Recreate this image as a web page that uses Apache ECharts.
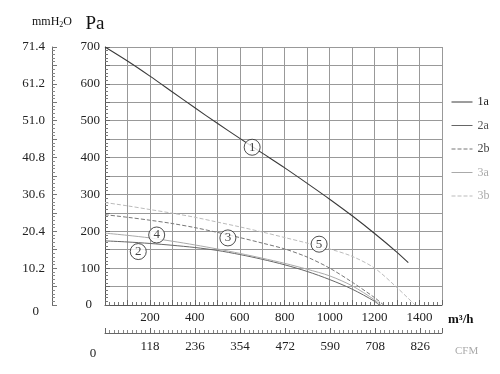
<!DOCTYPE html>
<html>
<head>
<meta charset="utf-8">
<style>html,body{margin:0;padding:0;background:#fff;}#c{width:500px;height:374px;}</style>
<script src="https://cdn.jsdelivr.net/npm/echarts@6/dist/echarts.min.js"></script>
</head>
<body>
<div id="c"></div>
<script>
// Data (flow in m3/h, pressure in Pa)
const q1a = [0,100,200,300,400,500,600,700,800,900,1000,1100,1200,1300,1350];
const p1a = [700,662,621,578,535,493,452,412,372,330,287,242,194,143,115];
const q2a = [0,100,200,300,400,500,600,700,800,900,1000,1100,1200,1220];
const p2a = [174,171,167,162,156,148,137,124,109,91,69,43,10,0];
const q2b = [0,100,200,300,400,500,600,700,800,900,1000,1100,1200,1240];
const p2b = [245,238,230,221,210,197,183,168,152,130,100,62,20,0];
const q3a = [0,100,200,300,400,500,600,700,800,900,1000,1100,1200,1228];
const p3a = [195,189,182,173,163,152,140,127,113,97,79,52,14,0];
const q3b = [0,100,200,300,400,500,600,700,800,900,1000,1100,1200,1300,1380];
const p3b = [278,269,259,249,238,225,212,198,183,168,152,132,100,47,0];
const seriesNames = ['1a','2a','2b','3a','3b'];
const markerLabels = ['1','2','3','4','5'];
const markerQ = [655,148,547,230,953];
const markerP = [428,145,182,190,165];
const paTicks = [0,100,200,300,400,500,600,700];
const cfmStep = 118;

const font = 'Liberation Serif';
const zip = (a,b) => a.map((v,i)=>[v,b[i]]);
const chart = echarts.init(document.getElementById('c'), null, {renderer:'canvas'});

function lineSeries(name, q, p, color, type, width){
  return {name, type:'line', xAxisIndex:0, yAxisIndex:0, data: zip(q,p), smooth:0.3,
    symbol:'none', lineStyle:{color, type, width}, itemStyle:{color}, z:3};
}

chart.setOption({
  animation:false,
  backgroundColor:'#fff',
  grid:{left:105, right:58, top:47, bottom:69, containLabel:false},
  legend:{orient:'vertical', left:446, top:90, itemWidth:21, itemHeight:14, itemGap:9.5,
    itemStyle:{opacity:0, borderWidth:0},
    lineStyle:{width:1},
    textStyle:{fontFamily:font, fontSize:12, lineHeight:14},
    data:[
      {name:'1a', textStyle:{color:'#222'}},
      {name:'2a', textStyle:{color:'#555'}},
      {name:'2b', textStyle:{color:'#444'}},
      {name:'3a', textStyle:{color:'#aaa'}},
      {name:'3b', textStyle:{color:'#aaa'}}
    ]},
  xAxis:[
    {type:'value', min:0, max:1500, interval:100, position:'bottom',
      name:'m³/h', nameLocation:'end', nameGap:6,
      nameTextStyle:{fontFamily:font, fontSize:13, color:'#111', fontWeight:'bold', verticalAlign:'top', padding:[8,0,0,0]},
      axisLine:{show:true, onZero:false, lineStyle:{color:'#555', width:1}},
      axisTick:{show:true, inside:true, length:5, lineStyle:{color:'#666'}},
      minorTick:{show:true, splitNumber:5, length:3, lineStyle:{color:'#777'}},
      splitLine:{show:true, lineStyle:{color:'#999', width:1}},
      axisLabel:{margin:6, fontFamily:font, fontSize:13, color:'#222',
        formatter: v => (v>0 && v<1500 && v%200===0) ? String(v) : ''}
    },
    {type:'value', min:0, max:1500/1.699, interval:cfmStep, position:'bottom', offset:28,
      name:'CFM', nameLocation:'end', nameGap:13,
      nameTextStyle:{fontFamily:font, fontSize:11, color:'#aaa', verticalAlign:'top', padding:[13,0,0,0]},
      axisLine:{show:true, onZero:false, lineStyle:{color:'#666', width:1}},
      axisTick:{show:true, inside:true, length:5, lineStyle:{color:'#666'}},
      minorTick:{show:true, splitNumber:10, length:3, lineStyle:{color:'#888'}},
      splitLine:{show:false},
      axisLabel:{margin:7, fontFamily:font, fontSize:13, color:'#222', showMinLabel:true, showMaxLabel:false,
        formatter: v => v===0 ? '{z|0}' : String(Math.round(v)),
        rich:{z:{fontFamily:font, fontSize:13, color:'#222', padding:[7,24,0,0]}}}
    }
  ],
  yAxis:[
    {type:'value', min:0, max:700, interval:50, position:'left',
      name:'Pa', nameLocation:'end', nameGap:13,
      nameTextStyle:{fontFamily:font, fontSize:19, color:'#111', padding:[0,20,0,0]},
      axisLine:{show:true, onZero:false, lineStyle:{color:'#555', width:1}},
      axisTick:{show:true, inside:true, length:5, lineStyle:{color:'#666'}},
      minorTick:{show:true, splitNumber:5, length:3, lineStyle:{color:'#777'}},
      splitLine:{show:true, lineStyle:{color:'#999', width:1}},
      axisLabel:{margin:5, fontFamily:font, fontSize:13, color:'#222', showMinLabel:true,
        formatter: v => paTicks.indexOf(v)<0 ? '' : (v===0 ? '{z|0}' : String(v)),
        rich:{z:{fontFamily:font, fontSize:13, color:'#222', padding:[0,8,0,0]}}}
    },
    {type:'value', min:0, max:700, interval:50, position:'left', offset:53,
      name:'mmH{s|2}O', nameLocation:'end', nameGap:18,
      nameTextStyle:{fontFamily:font, fontSize:12, color:'#111',
        rich:{s:{fontFamily:font, fontSize:8, color:'#111', verticalAlign:'bottom', padding:[6,0,0,0]}}},
      axisLine:{show:true, onZero:false, lineStyle:{color:'#666', width:1}},
      axisTick:{show:true, inside:true, length:5, lineStyle:{color:'#777'}},
      minorTick:{show:true, splitNumber:5, length:3, lineStyle:{color:'#888'}},
      splitLine:{show:false},
      axisLabel:{margin:7, fontFamily:font, fontSize:13, color:'#222', showMinLabel:true,
        formatter: v => paTicks.indexOf(v)<0 ? '' : (v===0 ? '{z|0}' : (v*0.102).toFixed(1)),
        rich:{z:{fontFamily:font, fontSize:13, color:'#222', padding:[14,6,0,0]}}}
    }
  ],
  series:[
    lineSeries('1a', q1a, p1a, '#3a3a3a', 'solid', 1.1),
    lineSeries('2a', q2a, p2a, '#666', 'solid', 1),
    lineSeries('2b', q2b, p2b, '#777', 'dashed', 1),
    lineSeries('3a', q3a, p3a, '#aaa', 'solid', 1),
    lineSeries('3b', q3b, p3b, '#bbb', 'dashed', 1),
    {type:'scatter', xAxisIndex:0, yAxisIndex:0, z:5,
      data: markerQ.map((q,i)=>({value:[q, markerP[i]], label:{formatter: markerLabels[i]}})),
      symbol:'circle', symbolSize:16,
      itemStyle:{color:'#fff', borderColor:'#222', borderWidth:1},
      label:{show:true, position:'inside', fontFamily:font, fontSize:13, color:'#111'}}
  ]
});
</script>
</body>
</html>
